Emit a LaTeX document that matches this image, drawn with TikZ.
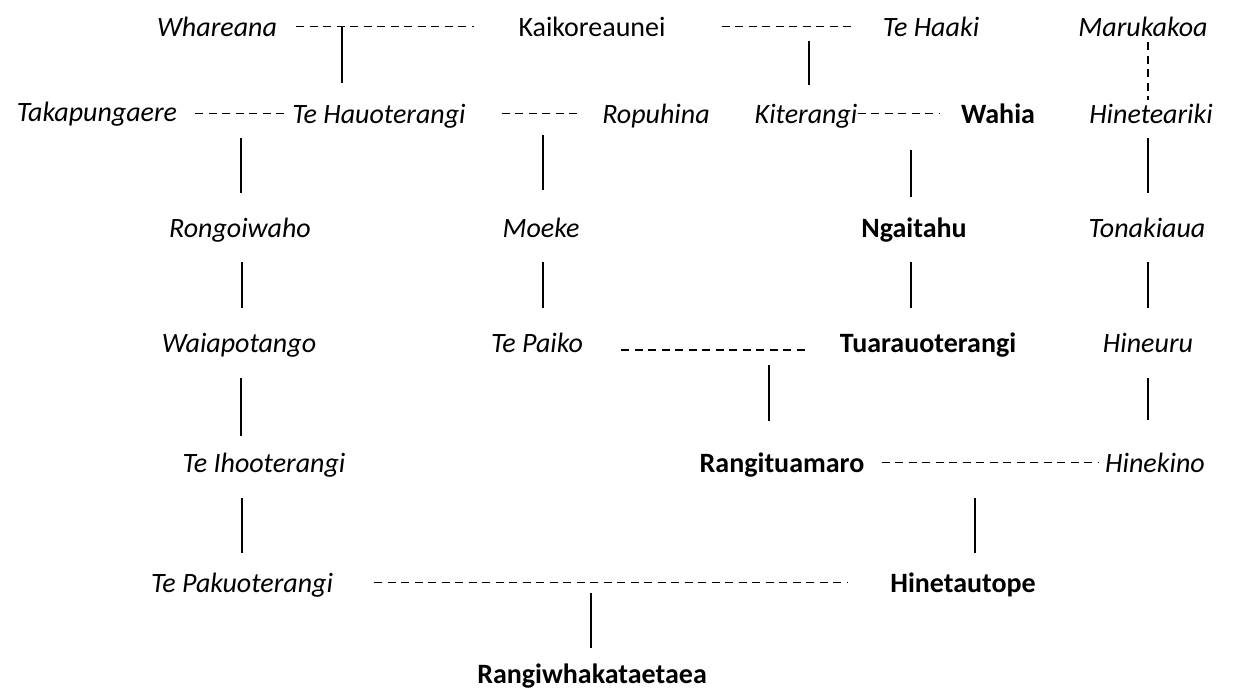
\documentclass[tikz,border=0pt]{standalone}
\usepackage{fontspec}
\setmainfont{Carlito}
\usepackage{tikz}

\begin{document}
\begin{tikzpicture}[
    x=1pt, y=-1pt,
    tupuna/.style={
        inner sep=0pt,
        text height=19pt,
        text depth=0pt,
        anchor=base,
        font=\fontsize{28}{34}\selectfont\itshape
    },
    rangatira/.style={
        tupuna,
        font=\fontsize{28}{34}\selectfont\bfseries
    },
    plainname/.style={
        tupuna,
        font=\fontsize{28}{34}\selectfont
    },
    descent/.style={
        line width=1.4pt
    },
    marriage/.style={
        line width=1.2pt,
        dash pattern=on 8pt off 5.5pt
    }
]

\useasboundingbox (0,0) rectangle (1234,691);

% ------------------------------------------------------------------
% First generation
% ------------------------------------------------------------------

\node[tupuna] (whareana) at (217,36) {Whareana};
\node[plainname] (kaikoreaunei) at (592,36) {Kaikoreaunei};
\node[tupuna] (tehaaki) at (931,36) {Te Haaki};
\node[tupuna] (marukakoa) at (1143,36) {Marukakoa};

\draw[marriage, shorten <=19pt, shorten >=44pt] (whareana) -- (kaikoreaunei);
\draw[marriage, shorten <=56pt, shorten >=32pt] (kaikoreaunei) -- (tehaaki);

% ------------------------------------------------------------------
% Second generation
% ------------------------------------------------------------------

\node[tupuna] (takapungaere) at (97,121) {Takapungaere};
\node[tupuna] (tehauoterangi) at (379,123) {Te Hauoterangi};
\node[tupuna] (ropuhina) at (656,123) {Ropuhina};
\node[tupuna] (kiterangi) at (806,123) {Kiterangi};
\node[rangatira] (wahia) at (998,123) {Wahia};
\node[tupuna] (hineteariki) at (1151,123) {Hineteariki};

\coordinate (whareanaline) at (342,26.5);
\coordinate (kaikoline) at (809,26.5);

\draw[descent, shorten >=21pt] (whareanaline) -- (whareanaline |- tehauoterangi.north);
\draw[descent, shorten <=14pt, shorten >=19pt] (kaikoline) -- (kaikoline |- kiterangi.north);
\draw[marriage, shorten <=6pt, shorten >=4pt]
    ([xshift=5pt]marukakoa.south) -- ([xshift=5pt]marukakoa.south |- hineteariki.north);

\draw[marriage, shorten <=18pt, shorten >=7pt]
    (tehauoterangi.west -| takapungaere.east) -- (tehauoterangi.west);
\draw[marriage, shorten <=36pt, shorten >=21pt] (tehauoterangi) -- (ropuhina);
\draw[marriage, shorten >=22pt] (kiterangi) -- (wahia);

% ------------------------------------------------------------------
% Third generation
% ------------------------------------------------------------------

\node[tupuna] (rongoiwaho) at (240,237) {Rongoiwaho};
\node[tupuna] (moeke) at (541,237) {Moeke};
\node[rangatira] (ngaitahu) at (914,237) {Ngaitahu};
\node[tupuna] (tonakiaua) at (1147,237) {Tonakiaua};

\coordinate (takapline) at (241,113.5);
\coordinate (ropuline) at (543,113.5);
\coordinate (wahialine) at (911,113.5);

\draw[descent, shorten <=24.5pt, shorten >=25pt] (takapline) -- (takapline |- rongoiwaho.north);
\draw[descent, shorten <=21.5pt, shorten >=28pt] (ropuline) -- (ropuline |- moeke.north);
\draw[descent, shorten <=36.5pt, shorten >=21pt] (wahialine) -- (wahialine |- ngaitahu.north);
\draw[descent, shorten <=15pt, shorten >=25pt]
    ([xshift=-3pt]hineteariki.south) -- ([xshift=-3pt]hineteariki.south |- tonakiaua.north);

% ------------------------------------------------------------------
% Fourth generation
% ------------------------------------------------------------------

\node[tupuna] (waiapotango) at (239,352) {Waiapotango};
\node[tupuna] (tepaiko) at (537,352) {Te Paiko};
\node[rangatira] (tuarauoterangi) at (928,352) {Tuarauoterangi};
\node[tupuna] (hineuru) at (1148,352) {Hineuru};

\draw[descent, shorten <=25pt, shorten >=25pt]
    ([xshift=2pt]rongoiwaho.south) -- ([xshift=2pt]rongoiwaho.south |- waiapotango.north);
\draw[descent, shorten <=25pt, shorten >=25pt]
    ([xshift=2pt]moeke.south) -- ([xshift=2pt]moeke.south |- tepaiko.north);
\draw[descent, shorten <=25pt, shorten >=25pt]
    ([xshift=-3pt]ngaitahu.south) -- ([xshift=-3pt]ngaitahu.south |- tuarauoterangi.north);
\draw[descent, shorten <=25pt, shorten >=25pt]
    ([xshift=1pt]tonakiaua.south) -- ([xshift=1pt]tonakiaua.south |- hineuru.north);

\draw[marriage, shorten <=38pt, shorten >=34pt]
    ([yshift=-7.5pt]tepaiko.east) -- ([yshift=-7.5pt]tuarauoterangi.west);

% ------------------------------------------------------------------
% Fifth generation
% ------------------------------------------------------------------

\node[tupuna] (teihooterangi) at (264,472) {Te Ihooterangi};
\node[rangatira] (rangituamaro) at (782,472) {Rangituamaro};
\node[tupuna] (hinekino) at (1155,472) {Hinekino};

\coordinate (paikoline) at (769,350);

\draw[descent, shorten <=26pt, shorten >=17pt]
    ([xshift=2pt]waiapotango.south) -- ([xshift=2pt]waiapotango.south |- teihooterangi.north);
\draw[descent, shorten <=15pt, shorten >=32pt] (paikoline) -- (paikoline |- rangituamaro.north);
\draw[descent, shorten <=26pt, shorten >=33pt] (hineuru.south) -- (hineuru.south |- hinekino.north);

\draw[marriage, shorten <=17pt, shorten >=6pt] (rangituamaro) -- (hinekino);

% ------------------------------------------------------------------
% Sixth generation
% ------------------------------------------------------------------

\node[tupuna] (tepakuoterangi) at (242,592) {Te Pakuoterangi};
\node[rangatira] (hinetautope) at (963,592) {Hinetautope};

\coordinate (rangiline) at (975,463);

\draw[descent, shorten <=26pt, shorten >=20pt]
    (tepakuoterangi.north |- teihooterangi.south) -- (tepakuoterangi.north);
\draw[descent, shorten <=35pt, shorten >=20pt] (rangiline) -- (rangiline |- hinetautope.north);

\draw[marriage, shorten <=41pt, shorten >=42pt] (tepakuoterangi) -- (hinetautope);

% ------------------------------------------------------------------
% Seventh generation
% ------------------------------------------------------------------

\node[rangatira] (rangiwhakataetaea) at (592,683) {Rangiwhakataetaea};

\coordinate (pakuline) at (591,582.5);

\draw[descent, shorten <=10.5pt, shorten >=16pt] (pakuline) -- (pakuline |- rangiwhakataetaea.north);

\end{tikzpicture}
\end{document}
